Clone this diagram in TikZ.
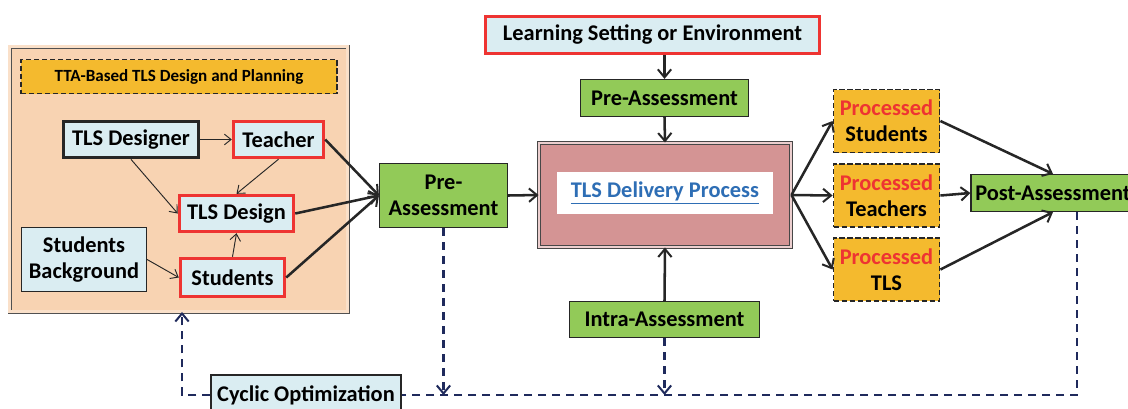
\documentclass[tikz,border=0pt]{standalone}
\usepackage{fontspec}
\setsansfont{Carlito}
\usetikzlibrary{arrows.meta}
\definecolor{peach}{HTML}{F8D3B2}
\definecolor{lblue}{HTML}{DAEDF2}
\definecolor{gold}{HTML}{F4BA2E}
\definecolor{lgreen}{HTML}{92CA58}
\definecolor{redb}{HTML}{EE3432}
\definecolor{rose}{HTML}{D49494}
\definecolor{linkblue}{HTML}{2E6EB5}
\definecolor{navy}{HTML}{1F2A5C}
\definecolor{ink}{HTML}{262626}
\tikzset{
  txt/.style={font=\sffamily\bfseries\fontsize{16.8}{19.5}\selectfont, align=center, text=black, inner sep=0pt},
  box/.style={txt, draw=ink, line width=0.9pt},
  bluebox/.style={box, fill=lblue},
  redbox/.style={box, fill=lblue, draw=redb, line width=2.6pt},
  blackbox/.style={box, fill=lblue, draw=ink, line width=2.8pt},
  greenbox/.style={box, fill=lgreen},
  goldbox/.style={box, fill=gold, dashed, dash pattern=on 4pt off 2pt, line width=1.4pt},
  thin arrow/.style={draw=ink, line width=0.7pt, -{Straight Barb[length=5pt,width=8pt,line width=0.7pt]}},
  thick arrow/.style={draw=ink, line width=1.9pt, -{Straight Barb[length=6pt,width=10pt,line width=1.5pt]}},
  loop line/.style={draw=navy, line width=1.9pt, dash pattern=on 6pt off 4.5pt},
  loop arrow/.style={loop line, -{Straight Barb[length=6pt,width=10pt,line width=1.5pt]}},
}
\begin{document}
\begin{tikzpicture}[x=0.75pt,y=-0.75pt]
\useasboundingbox (0,0) rectangle (1128,408);

% design and planning frame
\node[draw=ink!80, line width=0.7pt, double=peach!70!white, double distance=1.6pt,
      fill=peach, minimum width=338*0.75pt, minimum height=265*0.75pt, inner sep=0pt]
      (frame) at (178.5,179) {};
\node[goldbox, font=\sffamily\bfseries\fontsize{12.8}{14}\selectfont,
      minimum width=316*0.75pt, minimum height=34*0.75pt] (ttatitle) at (179,76.5)
      {TTA-Based TLS Design and Planning};

\node[blackbox, minimum width=135*0.75pt, minimum height=36*0.75pt] (designer) at (131,139.5) {TLS Designer};
\node[redbox, minimum width=90*0.75pt, minimum height=36*0.75pt] (teacher) at (278.5,139.5) {Teacher};
\node[redbox, minimum width=114*0.75pt, minimum height=36*0.75pt] (tlsdesign) at (236.5,213.5) {TLS Design};
\node[bluebox, minimum width=125*0.75pt, minimum height=64*0.75pt] (stuback) at (84,259.5) {Students\\Background};
\node[redbox, minimum width=104*0.75pt, minimum height=38*0.75pt] (students) at (232.5,277.5) {Students};

% top and centre column
\node[redbox, minimum width=334*0.75pt, minimum height=37*0.75pt] (learn) at (652.5,35) {Learning Setting or Environment};
\node[greenbox, minimum width=168*0.75pt, minimum height=37*0.75pt] (preTop) at (664.5,98) {Pre-Assessment};
\node[greenbox, minimum width=128*0.75pt, minimum height=64*0.75pt] (preA) at (443.5,195.5) {Pre-\\Assessment};
\node[draw=ink!85, line width=0.7pt, double=rose!45!white, double distance=1.6pt, fill=rose,
      minimum width=252*0.75pt, minimum height=104*0.75pt, inner sep=0pt] (delivery) at (665,195) {};
\node[txt, fill=white, text=linkblue, minimum width=216*0.75pt, minimum height=42*0.75pt]
      (deliveryText) at (665,193) {\underline{TLS Delivery Process}};
\node[greenbox, minimum width=190*0.75pt, minimum height=36*0.75pt] (intra) at (664.5,319.5) {Intra-Assessment};

% processed outputs
\node[goldbox, minimum width=106*0.75pt, minimum height=63*0.75pt] (procS) at (886.5,121) {\textcolor{redb}{Processed}\\Students};
\node[goldbox, minimum width=106*0.75pt, minimum height=63*0.75pt] (procT) at (886.5,195.5) {\textcolor{redb}{Processed}\\Teachers};
\node[goldbox, minimum width=106*0.75pt, minimum height=63*0.75pt] (procTLS) at (886.5,269.5) {\textcolor{redb}{Processed}\\TLS};
\node[greenbox, minimum width=164*0.75pt, minimum height=37*0.75pt] (post) at (1053,193) {Post-Assessment};

\node[bluebox, minimum width=190*0.75pt, minimum height=40*0.75pt] (cyclic) at (306,395) {Cyclic Optimization};

% links inside the frame
\draw[thin arrow] (designer) -- (teacher);
\draw[thin arrow] (designer.south) -- (tlsdesign.west);
\draw[thin arrow] (teacher.south) -- (tlsdesign.north);
\draw[thin arrow] (stuback.east) -- (students.west);
\draw[thin arrow] (students.north) -- (tlsdesign.south);

% main flow
\draw[thick arrow] (teacher.east) -- (preA.west);
\draw[thick arrow] (tlsdesign.east) -- (preA.west);
\draw[thick arrow] (students.east) -- (preA.west);
\draw[thick arrow] (preA.east) -- (delivery.west);
\draw[thick arrow] (learn.south -| preTop.north) -- (preTop.north);
\draw[thick arrow] (preTop.south) -- (delivery.north);
\draw[thick arrow] (intra.north) -- (delivery.south);
\draw[thick arrow] (delivery.east) -- (procS.west);
\draw[thick arrow] (delivery.east) -- (procT.west);
\draw[thick arrow] (delivery.east) -- (procTLS.west);
\draw[thick arrow] (procS.east) -- (post.north);
\draw[thick arrow] (procT.east) -- (post.west);
\draw[thick arrow] (procTLS.east) -- (post.south);

% optimisation loop
\coordinate (postOut) at (1077,212);
\coordinate (loopR) at (1077,395);
\coordinate (loopL) at (182,395);
\coordinate (preDrop) at (443.5,395);
\coordinate (intraDrop) at (664.5,395);
\draw[loop line] (postOut) -- (loopR) -- (cyclic.east);
\draw[loop arrow] (preA.south) -- (preDrop);
\draw[loop arrow] (intra.south) -- (intraDrop);
\draw[loop arrow] (cyclic.west) -- (loopL) -- (loopL |- frame.south);
\end{tikzpicture}
\end{document}
